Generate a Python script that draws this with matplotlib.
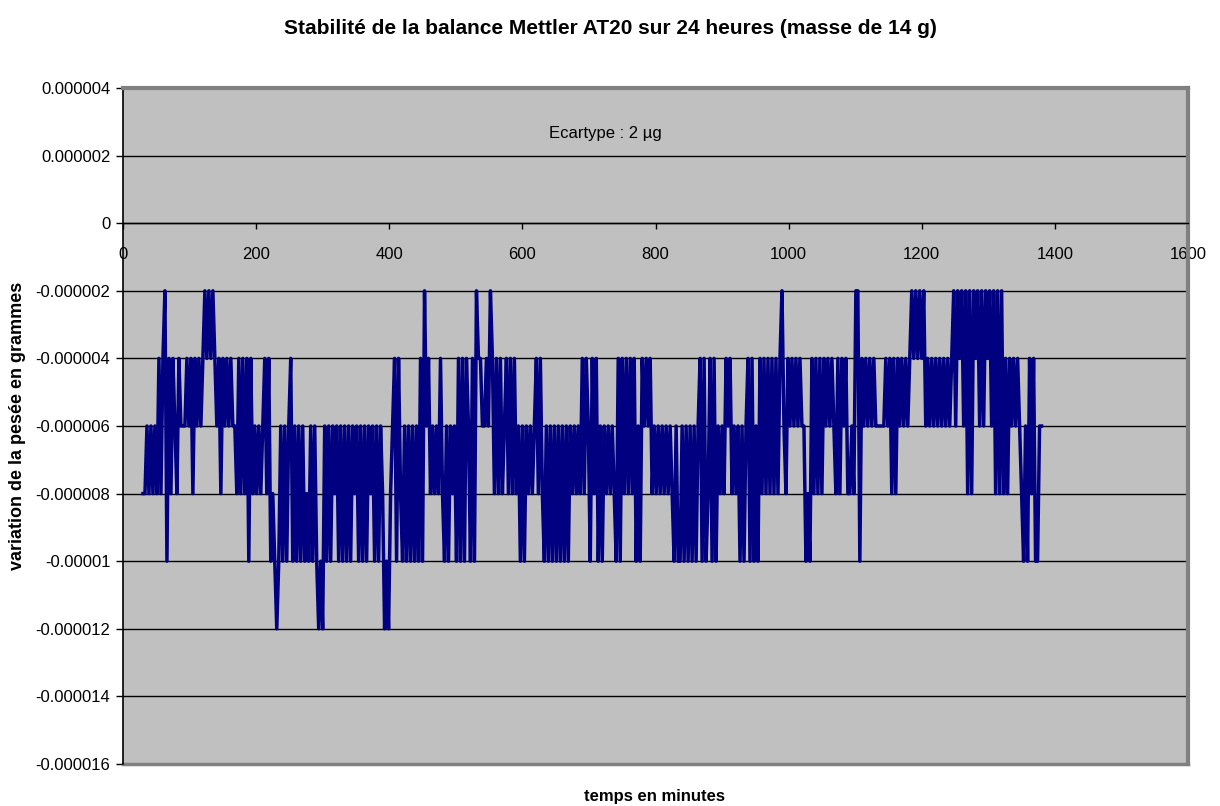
import numpy as np
import matplotlib
matplotlib.use('Agg')
import matplotlib.pyplot as plt

plt.rcParams['font.family'] = ['Liberation Sans', 'DejaVu Sans']
# keep every back-and-forth of the weighing trace
plt.rcParams['path.simplify'] = False

# one weighing every 3 minutes starting at minute 30
# each digit is the drop below the initial mass, in steps of 2 µg
start_min = 30
step_min = 3
readings = [
    "44 343434 2421524 23423 33 23242323 2 121212 3242323",
    "2334242425 2434343242 5456535353 2535353545 35356",
    "5635 3534353535353435353534353534 6564325245353",
    "5353525132 4343424535 3435252523 5251223323 12424",
    "2432424243 5353434324 2453535353 5353534343 42423",
    "5242535343 4345252424 2425352323 2434343434 34535",
    "5353535353 2525425253 4342324343 5353252535 24242",
    "4242421342 3232323354 5242424232 3234242324 43411",
    "5232323233 3332324242 3232321212 1213232323 23232",
    "3213121314 1412131312 1314141424 2323234535 2425533",
]
step_g = 0.000002

x_ticks = [0, 200, 400, 600, 800, 1000, 1200, 1400, 1600]
y_ticks = [0.000004, 0.000002, 0, -0.000002, -0.000004, -0.000006,
           -0.000008, -0.00001, -0.000012, -0.000014, -0.000016]
y_tick_labels = ['0.000004', '0.000002', '0', '-0.000002', '-0.000004', '-0.000006',
                 '-0.000008', '-0.00001', '-0.000012', '-0.000014', '-0.000016']

steps = [int(c) for c in "".join(readings) if c.isdigit()]
values = -step_g * np.array(steps)
minutes = start_min + step_min * np.arange(len(values))

fig = plt.figure(figsize=(12.2, 8.06), dpi=100)
ax = fig.add_axes([123 / 1220, 1 - 764 / 806, (1188 - 123) / 1220, (764 - 88) / 806])
ax.set_facecolor('#c0c0c0')

ax.plot(minutes, values, color='#000080', lw=2.5, zorder=3)

ax.set_xlim(0, 1600)
ax.set_ylim(-0.000016, 0.000004)
ax.set_xticks(x_ticks)
ax.set_xticklabels([str(t) for t in x_ticks])
ax.set_yticks(y_ticks)
ax.set_yticklabels(y_tick_labels)
ax.yaxis.grid(True, color='black', lw=1.0)
ax.set_axisbelow(True)

# x axis crosses at zero, plot area framed in grey
ax.spines['bottom'].set_position(('data', 0))
ax.spines['bottom'].set_color('black')
ax.spines['bottom'].set_linewidth(1.0)
ax.spines['left'].set_color('black')
ax.spines['left'].set_linewidth(1.2)
for side in ['top', 'right']:
    ax.spines[side].set_color('#808080')
    ax.spines[side].set_linewidth(3.0)
ax.plot([0, 1], [0, 0], transform=ax.transAxes, color='#808080', lw=2.5, clip_on=False)

ax.tick_params(axis='y', direction='out', length=5, width=1, pad=4, labelsize=12)
ax.tick_params(axis='x', direction='out', length=4, width=1, pad=13, labelsize=12)

ax.text(724, 0.00000265, 'Ecartype : 2 µg', ha='center', va='center', fontsize=12)

fig.text(0.5, 1 - 28 / 806, 'Stabilité de la balance Mettler AT20 sur 24 heures (masse de 14 g)',
         ha='center', va='center', fontsize=15, fontweight='bold')
fig.text(18 / 1220, 1 - 426 / 806, 'variation de la pesée en grammes', rotation=90,
         ha='center', va='center', fontsize=13, fontweight='bold')
fig.text(655 / 1220, 1 - 797 / 806, 'temps en minutes',
         ha='center', va='center', fontsize=12, fontweight='bold')

fig.savefig('out.png', dpi=100)
